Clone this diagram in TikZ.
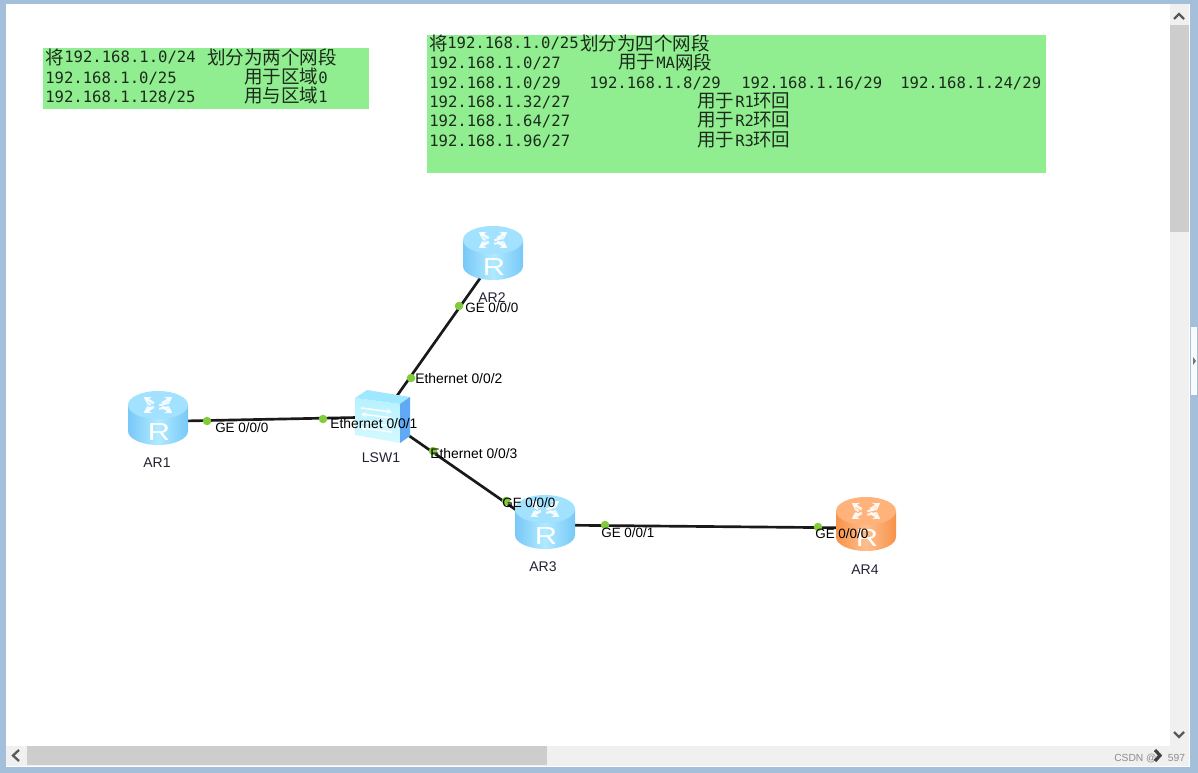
\documentclass[tikz,border=0pt]{standalone}
\usepackage{fontspec}
\setmainfont{Liberation Sans}
\newfontfamily\cjkf{Noto Sans CJK SC}
\newfontfamily\monof{DejaVu Sans Mono}
\usetikzlibrary{arrows.meta}
\definecolor{framec}{HTML}{A3BFD9}
\definecolor{trackc}{HTML}{F0F0F0}
\definecolor{thumbc}{HTML}{CDCDCD}
\definecolor{boxg}{HTML}{90EE90}
\definecolor{ink}{HTML}{1C2B1C}
\definecolor{portg}{HTML}{82CC3C}
\definecolor{lbl}{HTML}{222233}
\definecolor{bdark}{HTML}{78C8F8}
\definecolor{blight}{HTML}{B0EAFF}
\definecolor{btop}{HTML}{A2E2FF}
\definecolor{odark}{HTML}{F7934A}
\definecolor{olight}{HTML}{FFBE8C}
\definecolor{otop}{HTML}{FFB27A}
\definecolor{swfront}{HTML}{B5F2FF}
\definecolor{swfrontb}{HTML}{D6F9FF}
\definecolor{swtop}{HTML}{9FE8FF}
\definecolor{swside}{HTML}{5FA9F5}
\tikzset{
 mono/.style={anchor=west,inner sep=0pt,text=ink,font=\monof\fontsize{11.7}{12}\selectfont},
 cjk/.style={anchor=west,inner sep=0pt,text=ink,font=\cjkf\fontsize{13.9}{14}\selectfont},
 devlabel/.style={inner sep=0pt,text=lbl,font=\fontsize{10.5}{11}\selectfont},
 portlabel/.style={anchor=west,inner sep=0pt,text=black,font=\fontsize{10.1}{11}\selectfont},
 portlabelw/.style={anchor=west,inner sep=0pt,text=black,font=\fontsize{10.4}{11}\selectfont},
 link/.style={draw=black!90,line width=2pt},
 portdot/.style={circle,fill=portg,inner sep=0pt,minimum size=6.4pt},
 hub/.style={inner sep=0pt,minimum size=0pt},
 arrowbtn/.style={draw=black!65,line width=1.7pt,line cap=butt},
}
\newcommand{\routericon}[6]{% x y name sideDark sideLight top
 \begin{scope}[shift={(#1,#2)}]
  \shade[left color=#4,right color=#4,middle color=#5]
   (-30,-13) -- (-30,13) arc[start angle=180,end angle=0,x radius=30,y radius=14] -- (30,-13) -- cycle;
  \fill[#6] (0,-13) ellipse[x radius=30,y radius=14];
  \foreach \a in {45,135,225,315}{
   \draw[white,line width=2pt,-{Stealth[length=5pt,width=6.5pt]},opacity=.85]
    ({cos(\a)*6},{-13+sin(\a)*2.5}) -- ({cos(\a)*20},{-13+sin(\a)*11});
   \draw[white,line width=1.6pt,opacity=.85]
    ({cos(\a)*6-3},{-13+sin(\a)*2.5+2}) -- ({cos(\a)*15},{-13+sin(\a)*3});
  }
  \node[inner sep=0pt,text=white,font=\fontsize{18.5}{19}\selectfont] (#3R) at (1,14) {\scalebox{1.25}[1]{R}};
 \end{scope}}
\begin{document}
\begin{tikzpicture}[x=0.75pt,y=-0.75pt]
\useasboundingbox (0,0) rectangle (1198,773);
% window
\fill[framec] (0,0) rectangle (1198,773);
\fill[white] (6,4) rectangle (1170,746);
\fill[trackc] (1170,4) rectangle (1189,746);
\fill[white] (1189,4) rectangle (1190,767);
\fill[trackc] (6,746) rectangle (1170,766);
\fill[white] (6,766) rectangle (1190,767);
\fill[trackc] (1170,746) rectangle (1189,766);
\fill[thumbc] (1170,25) rectangle (1189,232);
\fill[thumbc] (27,746) rectangle (547,765);
\fill[white!92!framec] (1191,327) rectangle (1197,395);
\fill[black!55] (1193,357) -- (1196,361) -- (1193,365) -- cycle;
\draw[arrowbtn] (1174,19) -- (1179,14) -- (1184,19);
\draw[arrowbtn] (1174,732) -- (1179,737) -- (1184,732);
\draw[arrowbtn] (19,750) -- (13,755.5) -- (19,761);
% green boxes
\fill[boxg] (43,48) rectangle (369,109);
\fill[boxg] (427,35) rectangle (1046,173);
% left box text
\node[cjk] (a1) at (45,57) {将};
\node[mono] (a2) at (64,57) {192.168.1.0/24};
\node[cjk] (a3) at (207,57) {划分为两个网段};
\node[mono] (b1) at (45,78) {192.168.1.0/25};
\node[cjk] (b2) at (244,77) {用于区域};
\node[mono] (b3) at (318,78) {0};
\node[mono] (c1) at (45,97) {192.168.1.128/25};
\node[cjk] (c2) at (244,96) {用与区域};
\node[mono] (c3) at (318,97) {1};
% right box text
\node[cjk] (d1) at (429,43) {将};
\node[mono] (d2) at (447,43) {192.168.1.0/25};
\node[cjk] (d3) at (580,43) {划分为四个网段};
\node[mono] (e1) at (429,63) {192.168.1.0/27};
\node[cjk] (e2) at (618,62) {用于};
\node[mono] (e3) at (656,63) {MA};
\node[cjk] (e4) at (675,62) {网段};
\node[mono] (f1) at (429,83) {192.168.1.0/29};
\node[mono] (f2) at (589,83) {192.168.1.8/29};
\node[mono] (f3) at (741,83) {192.168.1.16/29};
\node[mono] (f4) at (900,83) {192.168.1.24/29};
\node[mono] (g1) at (429,102) {192.168.1.32/27};
\node[cjk] (g2) at (697,101) {用于};
\node[mono] (g3) at (735,102) {R1};
\node[cjk] (g4) at (753,101) {环回};
\node[mono] (h1) at (429,121) {192.168.1.64/27};
\node[cjk] (h2) at (697,120) {用于};
\node[mono] (h3) at (735,121) {R2};
\node[cjk] (h4) at (753,120) {环回};
\node[mono] (i1) at (429,141) {192.168.1.96/27};
\node[cjk] (i2) at (697,140) {用于};
\node[mono] (i3) at (735,141) {R3};
\node[cjk] (i4) at (753,140) {环回};
% connector ends
\node[hub] (AR1) at (158,421.5) {};
\node[hub] (AR2) at (493,260) {};
\node[hub] (LSW1) at (382,417) {};
\node[hub] (AR3a) at (545,530) {};
\node[hub] (AR3b) at (545,525) {};
\node[hub] (AR4) at (866,528) {};
\draw[link] (AR1) -- (LSW1);
\draw[link] (AR2) -- (LSW1);
\draw[link] (LSW1) -- (AR3a);
\draw[link] (AR3b) -- (AR4);
% icons
\routericon{158}{418}{ARa}{bdark}{blight}{btop}
\routericon{493}{253}{ARb}{bdark}{blight}{btop}
\routericon{545}{522}{ARc}{bdark}{blight}{btop}
\routericon{866}{524}{ARd}{odark}{olight}{otop}
% switch
\fill[swtop] (355,398) -- (367,390) -- (410,397) -- (400,404) -- cycle;
\shade[top color=swfront,bottom color=swfrontb] (355,398) -- (400,404) -- (400,443) -- (355,435) -- cycle;
\fill[swside] (400,404) -- (410,397) -- (410,436) -- (400,443) -- cycle;
\draw[white,line width=1.1pt,-{Stealth[length=4pt,width=4pt]}] (361,408) -- (392,412);
\draw[white,line width=1.1pt,{Stealth[length=4pt,width=4pt]}-] (361,414) -- (392,418);
\draw[white,line width=1.1pt,-{Stealth[length=4pt,width=4pt]}] (361,422) -- (392,426);
\draw[white,line width=1.1pt,{Stealth[length=4pt,width=4pt]}-] (361,428) -- (392,432);
% port dots
\node[portdot] (p1) at (207,421) {};
\node[portdot] (p2) at (323,419) {};
\node[portdot] (p3) at (459,306) {};
\node[portdot] (p4) at (411,378) {};
\node[portdot] (p5) at (433,451) {};
\node[portdot] (p6) at (506,501) {};
\node[portdot] (p7) at (605,525) {};
\node[portdot] (p8) at (818,527) {};
% device labels
\node[devlabel] (lAR1) at (157,463) {AR1};
\node[devlabel] (lAR2) at (492,298) {AR2};
\node[devlabel] (lAR3) at (543,567) {AR3};
\node[devlabel] (lAR4) at (865,570) {AR4};
\node[devlabel] (lLSW1) at (381,458) {LSW1};
% port labels
\node[portlabel] (t1) at (215,428) {GE 0/0/0};
\node[portlabelw] (t2) at (330,424) {Ethernet 0/0/1};
\node[portlabel] (t3) at (465,308) {GE 0/0/0};
\node[portlabelw] (t4) at (415,379) {Ethernet 0/0/2};
\node[portlabelw] (t5) at (430,454) {Ethernet 0/0/3};
\node[portlabel] (t6) at (502,503) {GE 0/0/0};
\node[portlabel] (t7) at (601,533) {GE 0/0/1};
\node[portlabel] (t8) at (815,534) {GE 0/0/0};
% watermark
\node[anchor=west,inner sep=0pt,text=black!45,font=\fontsize{7.7}{9}\selectfont] (wm) at (1114,758) {CSDN @\hspace{1.1em}597};
\draw[line width=2.4pt,black!75] (1155,750) -- (1160,755.5) -- (1155,761);
\end{tikzpicture}
\end{document}
